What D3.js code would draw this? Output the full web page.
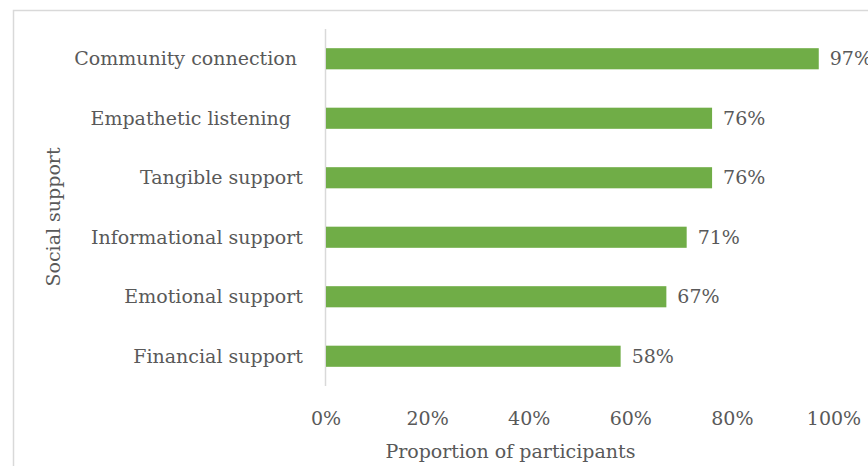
<!DOCTYPE html>
<html>
<head>
<meta charset="utf-8">
<script src="https://cdn.jsdelivr.net/npm/d3@7"></script>
<style>
    body { margin: 0; background: #fff; }
    text { font-family: "Palatino Linotype", "Book Antiqua", Palatino, "DejaVu Serif", serif; fill: #595959; }
</style>
</head>
<body>
<div id="chart"></div>
<script>
// Données
var categories = ["Community connection ", "Empathetic listening  ", "Tangible support",
    "Informational support", "Emotional support", "Financial support"];
var values = [0.97, 0.76, 0.76, 0.71, 0.67, 0.58];
var tickValues = [0, 0.2, 0.4, 0.6, 0.8, 1.0];

var width = 868,
    height = 466,
    fontSize = "19px";

var svg = d3.select("#chart")
    .append("svg")
    .attr("width", width)
    .attr("height", height);

// cadre du graphique (coupé à droite et en bas)
svg.append("rect")
    .attr("x", 13.5)
    .attr("y", 10.5)
    .attr("width", 900)
    .attr("height", 500)
    .attr("fill", "none")
    .attr("stroke", "#d9d9d9")
    .attr("stroke-width", 1.5);

var x = d3.scaleLinear().domain([0, 1]).range([326, 834]);
var y = d3.scaleBand().domain(categories).range([29, 386]).paddingInner(0.645).paddingOuter(0.3225);

// axe vertical
svg.append("line")
    .attr("x1", 325.5).attr("x2", 325.5)
    .attr("y1", 29).attr("y2", 386)
    .attr("stroke", "#d9d9d9")
    .attr("stroke-width", 1.5);

// barres
svg.selectAll(".bar")
    .data(values)
    .enter()
    .append("rect")
    .attr("class", "bar")
    .attr("x", x(0))
    .attr("y", function (d, i) { return y(categories[i]); })
    .attr("width", function (d) { return x(d) - x(0); })
    .attr("height", y.bandwidth())
    .attr("fill", "#70ad47");

// étiquettes des valeurs
svg.selectAll(".val")
    .data(values)
    .enter()
    .append("text")
    .attr("class", "val")
    .attr("x", function (d) { return x(d) + 11; })
    .attr("y", function (d, i) { return y(categories[i]) + y.bandwidth() / 2; })
    .attr("dy", "0.35em")
    .style("font-size", fontSize)
    .text(function (d) { return Math.round(d * 100) + "%"; });

// noms des catégories
svg.selectAll(".cat")
    .data(categories)
    .enter()
    .append("text")
    .attr("class", "cat")
    .attr("x", 303)
    .attr("y", function (d) { return y(d) + y.bandwidth() / 2; })
    .attr("dy", "0.35em")
    .attr("text-anchor", "end")
    .style("font-size", fontSize)
    .style("white-space", "pre")
    .text(function (d) { return d; });

// graduations de l'axe x
svg.selectAll(".tick")
    .data(tickValues)
    .enter()
    .append("text")
    .attr("class", "tick")
    .attr("x", function (d) { return x(d); })
    .attr("y", 425)
    .attr("text-anchor", "middle")
    .style("font-size", fontSize)
    .text(function (d) { return Math.round(d * 100) + "%"; });

// titres des axes
svg.append("text")
    .attr("x", x(0.363))
    .attr("y", 458)
    .attr("text-anchor", "middle")
    .style("font-size", fontSize)
    .text("Proportion of participants");

svg.append("text")
    .attr("transform", "translate(60,217) rotate(-90)")
    .attr("text-anchor", "middle")
    .style("font-size", fontSize)
    .text("Social support");
</script>
</body>
</html>
